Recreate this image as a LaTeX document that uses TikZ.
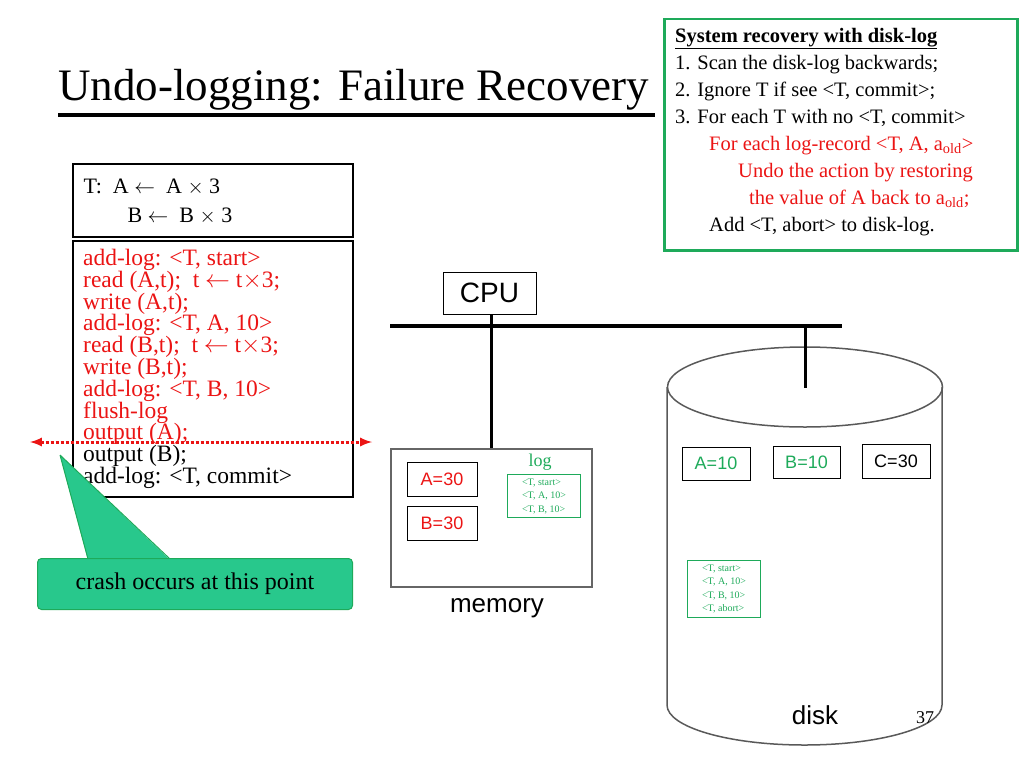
\documentclass[tikz,border=0pt]{standalone}
\usepackage{fontspec}
\setmainfont{Liberation Serif}
\newfontfamily\sansf{Liberation Sans}
\usetikzlibrary{arrows}
\definecolor{dgreen}{RGB}{30,170,90}
\definecolor{cgreen}{RGB}{40,200,140}
\definecolor{dred}{RGB}{235,20,20}
\tikzset{
  box/.style={draw,line width=1.5pt,inner sep=0pt},
  val/.style={draw,line width=1pt,minimum width=68pt,minimum height=33pt,font=\sansf\fontsize{18}{20}\selectfont},
  tiny/.style={align=left,font=\fontsize{10}{13.5}\selectfont,text=dgreen,draw=dgreen,line width=1pt,inner sep=4pt}
}
\begin{document}
\begin{tikzpicture}[x=1pt,y=-1pt]
  \useasboundingbox (0,0) rectangle (1024,768);

  \node[anchor=base west,inner sep=0pt,font=\fontsize{45}{48}\selectfont] (title) at (58,100) {Undo-logging: Failure Recovery};
  \draw[line width=3.5pt] (58,115) -- (655,115);

  \node[draw=dgreen,line width=2.5pt,minimum width=353pt,minimum height=231pt,anchor=north west] (rec) at (663,18) {};
  \node[anchor=north west,align=left,inner sep=0pt,font=\fontsize{20.5}{27}\selectfont] (rectext) at (675,28)
    {\textbf{\underline{System recovery with disk-log}}\\
     1. Scan the disk-log backwards;\\
     2. Ignore T if see <T, commit>;\\
     3. For each T with no <T, commit>\\
     \hspace*{34pt}\textcolor{dred}{For each log-record <T, A, a$_{\mathrm{old}}$>}\\
     \hspace*{63pt}\textcolor{dred}{Undo the action by restoring}\\
     \hspace*{74pt}\textcolor{dred}{the value of A back to a$_{\mathrm{old}}$;}\\
     \hspace*{34pt}Add <T, abort> to disk-log.};

  \node[box,minimum width=280pt,minimum height=73pt,anchor=north west] (tbox) at (72,163) {};
  \node[anchor=base west,font=\fontsize{22}{24}\selectfont] (ta) at (80,193) {T:\ \ A $\leftarrow$\ \ A $\times$ 3};
  \node[anchor=base west,font=\fontsize{22}{24}\selectfont] (tb) at (124,222) {B $\leftarrow$\ \ B $\times$ 3};

  \node[box,minimum width=280pt,minimum height=256pt,anchor=north west] (code) at (72,240) {};
  \node[anchor=north west,align=left,inner sep=0pt,font=\fontsize{23.5}{21.8}\selectfont] (codetext) at (83,249)
    {\textcolor{dred}{add-log: <T, start>}\\
     \textcolor{dred}{read (A,t);\ \ t $\leftarrow$ t$\times$3;}\\
     \textcolor{dred}{write (A,t);}\\
     \textcolor{dred}{add-log: <T, A, 10>}\\
     \textcolor{dred}{read (B,t);\ \ t $\leftarrow$ t$\times$3;}\\
     \textcolor{dred}{write (B,t);}\\
     \textcolor{dred}{add-log: <T, B, 10>}\\
     \textcolor{dred}{flush-log}\\
     \textcolor{dred}{output (A);}\\
     output (B);\\
     add-log: <T, commit>};

  \coordinate (crashl) at (30,442);
  \coordinate (crashr) at (372,442);
  \draw[dred,line width=3pt,dotted,latex-latex] (crashl) -- (crashr);

  \coordinate (tip) at (60,455);
  \fill[cgreen] (tip) -- (170,560) -- (88,560) -- cycle;
  \draw[dgreen,line width=1pt] (tip) -- (88,559) (tip) -- (170,559);
  \node[draw=dgreen,fill=cgreen,rounded corners=4pt,line width=1pt,minimum width=315pt,minimum height=51pt,anchor=north west,font=\fontsize{24}{26}\selectfont] (crash) at (37,558) {crash occurs at this point};

  \node[draw,line width=1pt,minimum width=93pt,minimum height=42pt,font=\sansf\fontsize{28}{30}\selectfont] (cpu) at (489.5,293) {CPU};
  \coordinate (busl) at (390,326);
  \coordinate (busr) at (842,326);
  \draw[line width=3.5pt] (busl) -- (busr);

  \node[draw=gray!80!black,line width=1.5pt,minimum width=201pt,minimum height=138pt,anchor=north west] (mem) at (390,448) {};
  \draw[line width=3pt] (cpu.south -| 491,0) -- (491,448);
  \node[font=\sansf\fontsize{26}{28}\selectfont] (memlabel) at (497,608) {memory};
  \node[val,text=dred,minimum width=70pt,minimum height=34pt] (a30) at (442,479) {A=30};
  \node[val,text=dred,minimum width=70pt,minimum height=34pt] (b30) at (442,523) {B=30};
  \node[font=\fontsize{18}{20}\selectfont,text=dgreen] (loglabel) at (540,462) {log};
  \node[tiny,anchor=north west,minimum width=73pt] (memlog) at (507,474) {<T, start>\\<T, A, 10>\\<T, B, 10>};

  % disk
  \draw[line width=1.5pt,gray!70!black] (667,387) -- (667,705) arc[start angle=180,end angle=0,x radius=137.5,y radius=40] -- (942,387);
  \draw[line width=1.5pt,gray!70!black] (805,387) ellipse[x radius=137.5,y radius=40];
  \draw[line width=3pt] (805,326) -- (805,388);
  \node[val,text=dgreen] (a10) at (716,463.5) {A=10};
  \node[val,text=dgreen,minimum width=67pt,minimum height=32pt] (b10) at (806.5,462) {B=10};
  \node[val,minimum width=68pt,minimum height=34pt] (c30) at (896,461) {C=30};
  \node[tiny,anchor=north west,minimum width=73pt] (disklog) at (687,560) {<T, start>\\<T, A, 10>\\<T, B, 10>\\<T, abort>};
  \node[font=\sansf\fontsize{26}{28}\selectfont] (disklabel) at (815,715) {disk};
  \node[font=\fontsize{18}{20}\selectfont] (page) at (925,718) {37};
\end{tikzpicture}
\end{document}
